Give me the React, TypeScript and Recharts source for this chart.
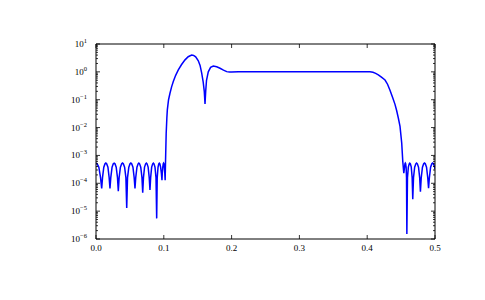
import React from 'react';
import { LineChart, Line, XAxis, YAxis } from 'recharts';

// Lower stopband (frequency, magnitude)
const lowStopFreq = [
  0.0, 0.0017, 0.0042, 0.0067, 0.0084,
  0.0096, 0.0115, 0.0133, 0.0145, 0.0157, 0.0176, 0.0194, 0.0206,
  0.0218, 0.0237, 0.0255, 0.0268, 0.028, 0.0298, 0.0317, 0.0329,
  0.0341, 0.036, 0.0379, 0.0391, 0.0403, 0.0422, 0.0441, 0.0453,
  0.0465, 0.0484, 0.0502, 0.0514, 0.0526, 0.0545, 0.0563, 0.0575,
  0.0586, 0.0604, 0.0621, 0.0632, 0.0643, 0.066, 0.0678, 0.0689,
  0.07, 0.0716, 0.0732, 0.0743, 0.0753, 0.0769, 0.0785, 0.0796,
  0.0806, 0.0821, 0.0836, 0.0846, 0.0855, 0.087, 0.0885, 0.0895,
  0.0903, 0.0915, 0.0926, 0.0934, 0.0942, 0.0953, 0.0965, 0.0973,
  0.0978, 0.0985, 0.0992, 0.0997, 0.1002, 0.1008, 0.1015, 0.102,
];
const lowStopMag = [
  5.3e-4, 5.0e-4, 3.8e-4, 1.6e-4, 6.5e-5,
  1.6e-4, 3.8e-4, 5.0e-4, 5.3e-4, 5.0e-4, 3.8e-4, 1.6e-4, 6.5e-5,
  1.6e-4, 3.8e-4, 5.0e-4, 5.3e-4, 5.0e-4, 3.8e-4, 1.6e-4, 5.2e-5,
  1.6e-4, 3.8e-4, 5.0e-4, 5.3e-4, 5.0e-4, 3.8e-4, 1.6e-4, 1.3e-5,
  1.6e-4, 3.8e-4, 5.0e-4, 5.3e-4, 5.0e-4, 3.8e-4, 1.6e-4, 6.5e-5,
  1.6e-4, 3.8e-4, 5.0e-4, 5.3e-4, 5.0e-4, 3.8e-4, 1.6e-4, 4.6e-5,
  1.6e-4, 3.8e-4, 5.0e-4, 5.3e-4, 5.0e-4, 3.8e-4, 1.6e-4, 5.8e-5,
  1.6e-4, 3.8e-4, 5.0e-4, 5.3e-4, 5.0e-4, 3.8e-4, 1.6e-4, 5.5e-6,
  1.6e-4, 3.8e-4, 5.0e-4, 5.3e-4, 5.0e-4, 3.8e-4, 2.2e-4, 1.3e-4,
  2.4e-4, 3.8e-4, 5.0e-4, 5.3e-4, 5.0e-4, 3.8e-4, 2.2e-4, 1.3e-4,
];

// Passband with both transition bands
const passFreq = [
  0.1026, 0.1035, 0.1045, 0.1052, 0.107, 0.1091, 0.1115, 0.114, 0.1175, 0.1214,
  0.126, 0.1313, 0.136, 0.1411, 0.144, 0.147, 0.1509, 0.1535, 0.1559, 0.158,
  0.1597, 0.1608, 0.1618, 0.163, 0.1656, 0.169, 0.173, 0.178, 0.1829, 0.188,
  0.1928, 0.197, 0.2, 0.21, 0.3, 0.404, 0.4085, 0.4125, 0.4164, 0.421,
  0.4263, 0.43, 0.4336, 0.4375, 0.441, 0.4435, 0.4459, 0.4484, 0.4509, 0.4525,
];
const passMag = [
  7e-4, 6e-3, 2.2e-2, 4.3e-2, 0.1, 0.17, 0.29, 0.45, 0.75, 1.17,
  1.8, 2.7, 3.5, 4.0, 3.9, 3.45, 2.5, 1.7, 0.9, 0.45,
  0.2, 0.07, 0.2, 0.5, 1.0, 1.45, 1.62, 1.52, 1.35, 1.15,
  1.02, 0.98, 0.98, 1.0, 1.0, 1.0, 0.96, 0.88, 0.78, 0.65,
  0.51, 0.36, 0.22, 0.12, 0.068, 0.04, 0.022, 0.011, 2.8e-3, 6e-4,
];

// Upper stopband
const highStopFreq = [
  0.454, 0.4551, 0.4557, 0.4562, 0.4567, 0.4574, 0.458, 0.4585,
  0.4594, 0.4607, 0.462, 0.4628, 0.4637, 0.465, 0.4663, 0.4672,
  0.4683, 0.47, 0.4717, 0.4728, 0.474, 0.4757, 0.4774, 0.4785,
  0.4797, 0.4815, 0.4833, 0.4845, 0.4857, 0.4875, 0.4893, 0.4905,
  0.4917, 0.4935, 0.4953, 0.4965, 0.4977, 0.4995, 0.5,
];
const highStopMag = [
  2.3e-4, 3.8e-4, 5.0e-4, 5.3e-4, 5.0e-4, 3.8e-4, 1.6e-4, 1.5e-6,
  1.6e-4, 3.8e-4, 5.0e-4, 5.3e-4, 5.0e-4, 3.8e-4, 1.6e-4, 2.7e-5,
  1.6e-4, 3.8e-4, 5.0e-4, 5.3e-4, 5.0e-4, 3.8e-4, 1.6e-4, 5.0e-5,
  1.6e-4, 3.8e-4, 5.0e-4, 5.3e-4, 5.0e-4, 3.8e-4, 1.6e-4, 6.6e-5,
  1.6e-4, 3.8e-4, 5.0e-4, 5.3e-4, 5.0e-4, 3.8e-4, 3.2e-4,
];

const xTicks = [0, 0.1, 0.2, 0.3, 0.4, 0.5];
const yMajorTicks = [1e-6, 1e-5, 1e-4, 1e-3, 1e-2, 1e-1, 1, 10];
const minorMultipliers = [2, 3, 4, 5, 6, 7, 8, 9];

const yTicks = [
  ...yMajorTicks,
  ...yMajorTicks.slice(0, -1).flatMap((d) => minorMultipliers.map((m) => m * d)),
];

const data = [
  ...lowStopFreq.map((f, i) => ({ f, h: lowStopMag[i] })),
  ...passFreq.map((f, i) => ({ f, h: passMag[i] })),
  ...highStopFreq.map((f, i) => ({ f, h: highStopMag[i] })),
];

const FONT = '"Liberation Serif", "DejaVu Serif", serif';

const isMajor = (v: number) => {
  const l = Math.log10(v);
  return Math.abs(l - Math.round(l)) < 1e-6;
};

const LeftTick = (props: any) => {
  const { x, y, payload } = props;
  const v = payload.value;
  const major = isMajor(v);
  const e = Math.round(Math.log10(v));
  return (
    <g>
      <line x1={x} y1={y} x2={x + (major ? 4 : 2)} y2={y} stroke="#000" strokeWidth={0.8} />
      {major && (
        <text x={x - 9} y={y + 3} textAnchor="end" fontFamily={FONT} fontSize={9} fill="#000">
          10
          <tspan dy={-4} fontSize={6.5}>{e < 0 ? '\u2212' + -e : String(e)}</tspan>
        </text>
      )}
    </g>
  );
};

const RightTick = (props: any) => {
  const { x, y, payload } = props;
  const major = isMajor(payload.value);
  return <line x1={x} y1={y} x2={x - (major ? 4 : 2)} y2={y} stroke="#000" strokeWidth={0.8} />;
};

const BottomTick = (props: any) => {
  const { x, y, payload } = props;
  return (
    <g>
      <line x1={x} y1={y} x2={x} y2={y - 4} stroke="#000" strokeWidth={0.8} />
      <text x={x} y={y + 12} textAnchor="middle" fontFamily={FONT} fontSize={9} fill="#000">
        {Number(payload.value).toFixed(1)}
      </text>
    </g>
  );
};

const TopTick = (props: any) => {
  const { x, y } = props;
  return <line x1={x} y1={y} x2={x} y2={y + 4} stroke="#000" strokeWidth={0.8} />;
};

export default function App() {
  return (
    <div style={{ position: 'absolute', left: 0, top: 0, width: 485, height: 300, background: '#fff' }}>
      <LineChart width={485} height={300} data={data} margin={{ top: 0, right: 0, bottom: 0, left: 0 }}>
        <XAxis
          dataKey="f"
          type="number"
          domain={[0, 0.5]}
          ticks={xTicks}
          interval={0}
          height={61}
          tickSize={0}
          tickMargin={0}
          tick={<BottomTick />}
          axisLine={{ stroke: '#000', strokeWidth: 1 }}
          allowDataOverflow
        />
        <XAxis
          xAxisId="top"
          orientation="top"
          dataKey="f"
          type="number"
          domain={[0, 0.5]}
          ticks={xTicks}
          interval={0}
          height={44}
          tickSize={0}
          tickMargin={0}
          tick={<TopTick />}
          axisLine={{ stroke: '#000', strokeWidth: 1 }}
          allowDataOverflow
        />
        <YAxis
          type="number"
          scale="log"
          domain={[1e-6, 10]}
          ticks={yTicks}
          interval={0}
          width={96}
          tickSize={0}
          tickMargin={0}
          tick={<LeftTick />}
          axisLine={{ stroke: '#000', strokeWidth: 1 }}
          allowDataOverflow
        />
        <YAxis
          yAxisId="right"
          orientation="right"
          type="number"
          scale="log"
          domain={[1e-6, 10]}
          ticks={yTicks}
          interval={0}
          width={50}
          tickSize={0}
          tickMargin={0}
          tick={<RightTick />}
          axisLine={{ stroke: '#000', strokeWidth: 1 }}
          allowDataOverflow
        />
        <Line
          dataKey="h"
          type="linear"
          stroke="#0000ff"
          strokeWidth={1.5}
          dot={false}
          activeDot={false}
          isAnimationActive={false}
        />
      </LineChart>
    </div>
  );
}
